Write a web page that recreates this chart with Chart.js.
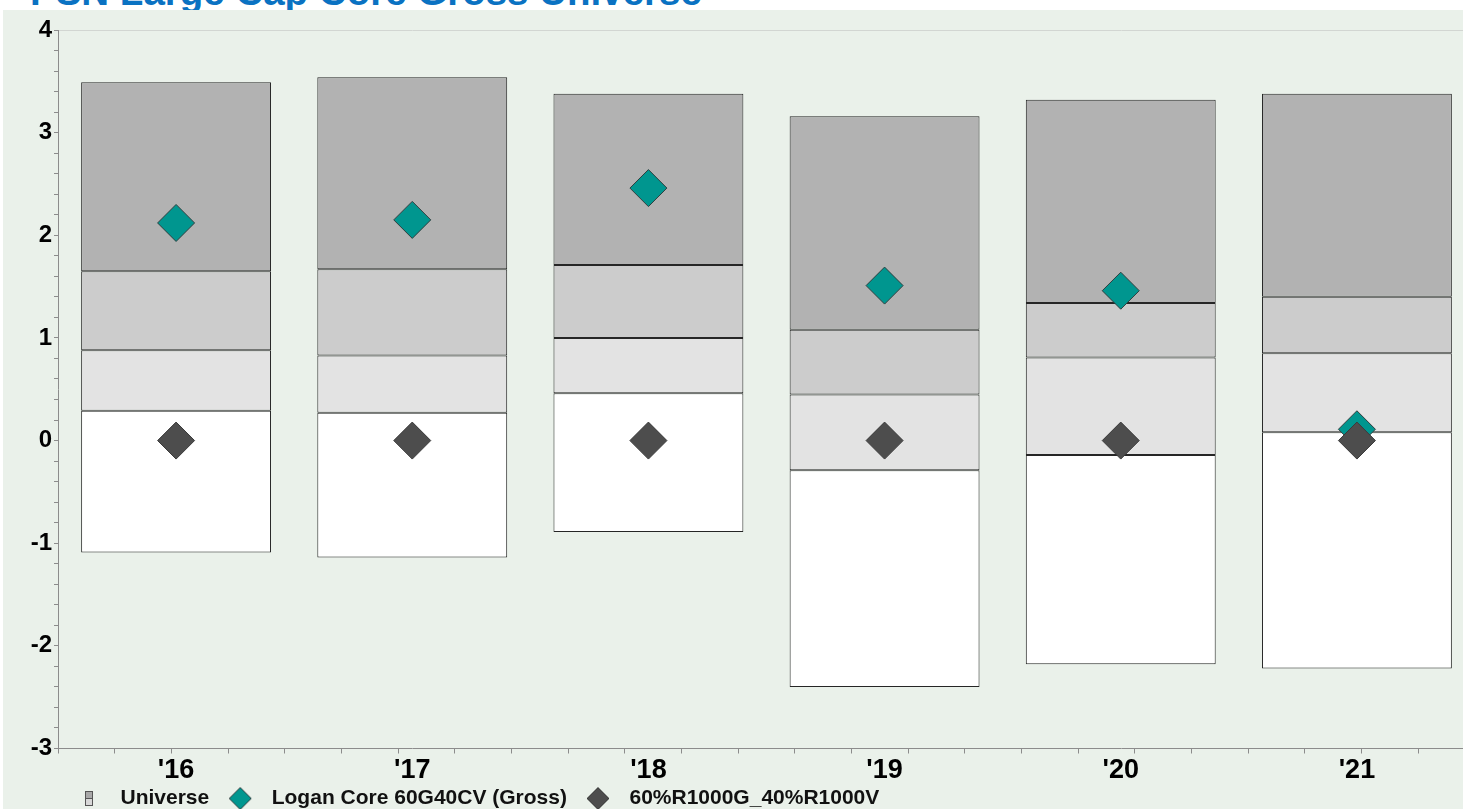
<!DOCTYPE html>
<html>
<head>
<meta charset="utf-8">
<script src="https://cdn.jsdelivr.net/npm/chart.js@4.4.0/dist/chart.umd.min.js"></script>
<style>
  html, body { margin: 0; padding: 0; background: #ffffff; overflow: hidden; width: 1463px; height: 809px; }
  #title { position: absolute; left: 30px; top: -27px; font: bold 38.5px "Liberation Sans", Arial, sans-serif;
           line-height: 38px; color: #0A72C2; white-space: nowrap; }
  #panel { position: absolute; left: 3px; top: 10px; right: 0; bottom: 0; background: #EAF1EA; }
  #chart { position: absolute; left: 0; top: 0; width: 1475px; height: 819px; }
</style>
</head>
<body>
<div id="title">PSN Large Cap Core Gross Universe</div>
<div id="panel"></div>
<canvas id="chart" width="1475" height="819"></canvas>
<script>
// Calendar years shown on the category axis
const categories = ["'16", "'17", "'18", "'19", "'20", "'21"];

// Universe percentile breakpoints (5th, 25th, median, 75th, 95th)
const pct05 = [3.49, 3.54, 3.38, 3.16, 3.32, 3.38];
const pct25 = [1.65, 1.67, 1.71, 1.08, 1.34, 1.40];
const pct50 = [0.88, 0.83, 1.00, 0.45, 0.81, 0.85];
const pct75 = [0.29, 0.27, 0.46, -0.29, -0.14, 0.08];
const pct95 = [-1.09, -1.14, -0.89, -2.40, -2.18, -2.22];

// Portfolio and benchmark values
const loganCore = [2.12, 2.15, 2.46, 1.51, 1.46, 0.11];
const benchmark = [0, 0, 0, 0, 0, 0];

// Value axis range
const yMin = -3;
const yMax = 4;

const FONT = '"Liberation Sans", Arial, Helvetica, sans-serif';
const TEAL = '#00968F';
const DARK = '#4D4D4D';

function band(label, lo, hi, color) {
  return {
    type: 'bar',
    label: label,
    data: lo.map((v, i) => [v, hi[i]]),
    backgroundColor: color,
    borderColor: '#262626',
    borderWidth: 1,
    borderSkipped: false,
    grouped: false,
    barPercentage: 0.804,
    categoryPercentage: 1,
    order: 3,
    xAxisID: 'x',
    yAxisID: 'y'
  };
}

function diamondIcon(fill, stroke) {
  const c = document.createElement('canvas');
  c.width = 24; c.height = 24;
  const g = c.getContext('2d');
  g.beginPath();
  g.moveTo(12, 1); g.lineTo(23, 12); g.lineTo(12, 23); g.lineTo(1, 12); g.closePath();
  g.fillStyle = fill; g.fill();
  g.strokeStyle = stroke; g.lineWidth = 1; g.stroke();
  return c;
}

function universeIcon() {
  const c = document.createElement('canvas');
  c.width = 8; c.height = 15;
  const g = c.getContext('2d');
  g.fillStyle = '#A8A8A8'; g.fillRect(1, 1, 6, 6);
  g.fillStyle = '#D8D8D8'; g.fillRect(1, 7, 6, 7);
  g.strokeStyle = '#555555'; g.lineWidth = 1;
  g.strokeRect(0.5, 0.5, 7, 14);
  g.beginPath(); g.moveTo(0.5, 7.5); g.lineTo(7.5, 7.5); g.stroke();
  return c;
}

const legendIcons = [universeIcon(), diamondIcon(TEAL, '#2F3F3F'), diamondIcon(DARK, '#3A3A3A')];

const chart = new Chart(document.getElementById('chart'), {
  type: 'bar',
  data: {
    labels: categories,
    datasets: [
      band('5th to 25th Percentile', pct25, pct05, '#B2B2B2'),
      band('25th to Median', pct50, pct25, '#CCCCCC'),
      band('Median to 75th Percentile', pct75, pct50, '#E3E3E3'),
      band('75th to 95th Percentile', pct95, pct75, '#FFFFFF'),
      {
        type: 'line',
        label: 'Logan Core 60G40CV (Gross)',
        data: loganCore,
        showLine: false,
        pointStyle: 'rectRot',
        pointRadius: 18.5,
        pointHoverRadius: 18.5,
        backgroundColor: TEAL,
        borderColor: '#2F3F3F',
        borderWidth: 1,
        order: 2,
        xAxisID: 'x',
        yAxisID: 'y'
      },
      {
        type: 'line',
        label: '60%R1000G_40%R1000V',
        data: benchmark,
        showLine: false,
        pointStyle: 'rectRot',
        pointRadius: 18.5,
        pointHoverRadius: 18.5,
        backgroundColor: DARK,
        borderColor: '#3A3A3A',
        borderWidth: 1,
        order: 1,
        xAxisID: 'x',
        yAxisID: 'y'
      }
    ]
  },
  options: {
    responsive: false,
    maintainAspectRatio: false,
    animation: false,
    devicePixelRatio: 1,
    layout: { autoPadding: false, padding: { left: 0, top: 30, right: 0, bottom: 0 } },
    plugins: {
      tooltip: { enabled: false },
      title: { display: false },
      legend: {
        display: true,
        position: 'bottom',
        align: 'start',
        fullSize: false,
        onClick: null,
        labels: {
          usePointStyle: true,
          pointStyleWidth: 42,
          boxHeight: 21,
          padding: 10,
          color: '#111111',
          font: { family: FONT, size: 21, weight: 'bold' },
          generateLabels: () => [
            { text: 'Universe', pointStyle: legendIcons[0], fillStyle: '#B2B2B2', strokeStyle: '#555', lineWidth: 1, hidden: false, datasetIndex: 0, fontColor: '#111111' },
            { text: 'Logan Core 60G40CV (Gross)', pointStyle: legendIcons[1], fillStyle: TEAL, strokeStyle: '#333', lineWidth: 1, hidden: false, datasetIndex: 4, fontColor: '#111111' },
            { text: '60%R1000G_40%R1000V', pointStyle: legendIcons[2], fillStyle: DARK, strokeStyle: '#333', lineWidth: 1, hidden: false, datasetIndex: 5, fontColor: '#111111' }
          ]
        }
      }
    },
    scales: {
      xq: {
        type: 'linear',
        position: 'bottom',
        weight: 0,
        min: -0.5,
        max: categories.length - 0.5,
        afterFit: (scale) => { scale.height = 5; },
        ticks: { display: false, stepSize: 0.25 },
        grid: { drawOnChartArea: false, drawTicks: true, tickLength: 5, color: '#8C8C8C' },
        border: { display: true, color: '#8C8C8C', width: 1 }
      },
      x: {
        type: 'category',
        position: 'bottom',
        weight: 1,
        offset: true,
        afterFit: (scale) => { scale.height = 24.5; },
        grid: { display: false, drawTicks: false },
        border: { display: false },
        ticks: {
          color: '#000000',
          padding: 10.5,
          maxRotation: 0,
          autoSkip: false,
          font: { family: FONT, size: 27, weight: 'bold', lineHeight: 0.52 }
        }
      },
      xt: {
        type: 'linear',
        position: 'top',
        display: true,
        afterFit: (scale) => { scale.height = 0; },
        ticks: { display: false },
        grid: { drawOnChartArea: false, drawTicks: false },
        border: { display: true, color: '#D2D6D2', width: 1 }
      },
      y: {
        type: 'linear',
        position: 'left',
        min: yMin,
        max: yMax,
        afterFit: (scale) => { scale.width = 58; },
        ticks: {
          stepSize: 0.2,
          autoSkip: false,
          padding: 2,
          color: '#000000',
          font: { family: FONT, size: 24, weight: 'bold' },
          callback: (v) => (Math.abs(v - Math.round(v)) < 1e-6 ? String(Math.round(v)) : '')
        },
        grid: { drawOnChartArea: false, drawTicks: true, tickLength: 4, color: '#8C8C8C' },
        border: { display: true, color: '#8C8C8C', width: 1 }
      }
    }
  }
});
</script>
</body>
</html>
